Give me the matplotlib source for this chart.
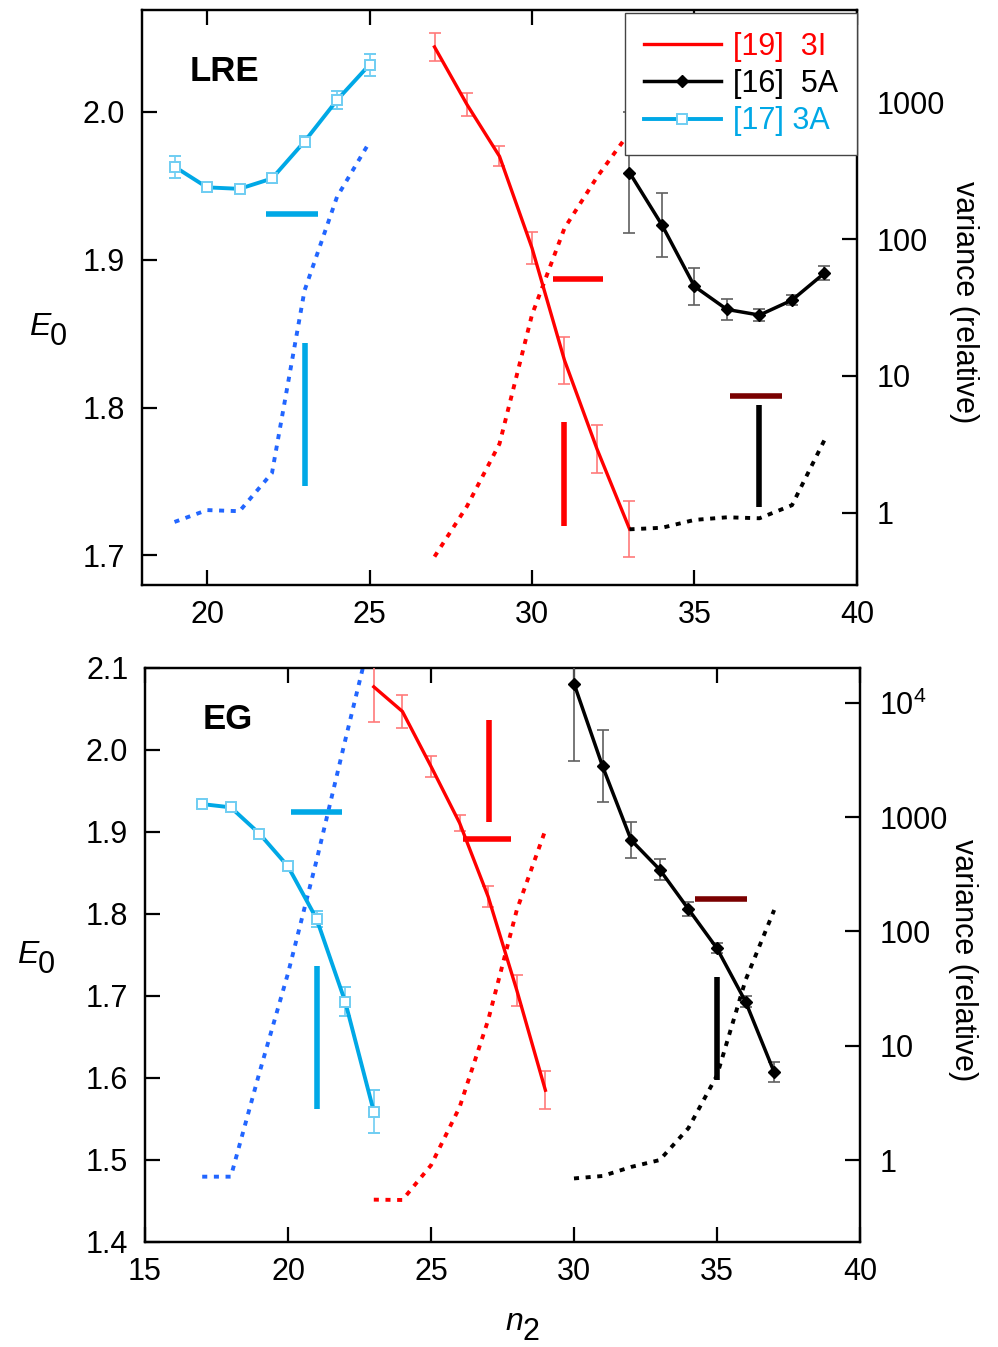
import matplotlib
matplotlib.use('Agg')
import matplotlib.pyplot as plt
from matplotlib.lines import Line2D
from matplotlib.ticker import FixedLocator, FixedFormatter
from matplotlib.transforms import offset_copy

plt.rcParams['font.family'] = ['Liberation Sans', 'DejaVu Sans']
plt.rcParams['mathtext.fontset'] = 'custom'
plt.rcParams['mathtext.rm'] = 'Liberation Sans'
plt.rcParams['mathtext.it'] = 'Liberation Sans:italic'
plt.rcParams['font.size'] = 22

# ---- LRE panel data ----
lre_n_3a = [19, 20, 21, 22, 23, 24, 25]
lre_e_3a = [1.963, 1.949, 1.948, 1.955, 1.980, 2.008, 2.032]
lre_err_3a = [0.0075, 0.003, 0.002, 0.003, 0.004, 0.006, 0.0075]
lre_var_3a = [0.86, 1.05, 1.03, 1.96, 42, 203, 510]

lre_n_3i = [27, 28, 29, 30, 31, 32, 33]
lre_e_3i = [2.044, 2.005, 1.970, 1.908, 1.832, 1.772, 1.718]
lre_err_3i = [0.0093, 0.0077, 0.0068, 0.011, 0.016, 0.0165, 0.019]
lre_var_3i = [0.48, 1.12, 3.2, 28, 120, 283, 600]

lre_n_5a = [33, 34, 35, 36, 37, 38, 39]
lre_e_5a = [1.959, 1.9235, 1.882, 1.8664, 1.8626, 1.8727, 1.891]
lre_err_5a = [0.041, 0.0217, 0.0126, 0.0073, 0.004, 0.0035, 0.0045]
lre_var_5a = [0.76, 0.78, 0.89, 0.93, 0.915, 1.14, 3.41]

# thick markers: horizontal (x0, x1, y) and vertical (x, y0, y1), per series 3A, 3I, 5A
lre_hbars = [(21.8, 23.4, 1.931), (30.66, 32.19, 1.887), (36.09, 37.68, 1.808)]
lre_vbars = [(23.03, 1.747, 1.844), (31.0, 1.720, 1.790), (37.0, 1.733, 1.802)]

# ---- EG panel data ----
eg_n_3a = [17, 18, 19, 20, 21, 22, 23]
eg_e_3a = [1.934, 1.930, 1.898, 1.858, 1.794, 1.693, 1.559]
eg_err_3a = [0.003, 0.003, 0.003, 0.004, 0.01, 0.0177, 0.026]
eg_var_3a = [0.715, 0.715, 5.8, 43, 420, 4700, 50000]

eg_n_3i = [23, 24, 25, 26, 27, 28, 29]
eg_e_3i = [2.077, 2.047, 1.980, 1.911, 1.821, 1.707, 1.585]
eg_err_3i = [0.043, 0.02, 0.013, 0.01, 0.013, 0.019, 0.023]
eg_var_3i = [0.45, 0.447, 0.9, 2.9, 16.8, 154, 771]

eg_n_5a = [30, 31, 32, 33, 34, 35, 36, 37]
eg_e_5a = [2.081, 1.980, 1.890, 1.854, 1.806, 1.758, 1.693, 1.607]
eg_err_5a = [0.094, 0.044, 0.022, 0.0126, 0.0085, 0.006, 0.007, 0.012]
eg_var_5a = [0.69, 0.725, 0.87, 1.0, 1.9, 5.5, 37.6, 154]

eg_hbars = [(20.09, 21.9, 1.924), (26.11, 27.8, 1.892), (34.23, 36.06, 1.818)]
eg_vbars = [(21.0, 1.562, 1.736), (27.03, 1.912, 2.037), (35.0, 1.598, 1.723)]

legend_labels = ['[19]  3I', '[16]  5A', '[17] 3A']

CYAN = '#00a8e6'
CYAN_LT = '#6fcdf2'
RED = '#ff0000'
RED_LT = '#ff7a7a'
BLACK = '#000000'
GREY = '#606060'
BLUE = '#2266ff'
MAROON = '#7a0000'

hbar_colors = [CYAN, RED, MAROON]
vbar_colors = [CYAN, RED, BLACK]


def style_axes(ax, ax2):
    for a in (ax, ax2):
        for s in a.spines.values():
            s.set_linewidth(1.6)
    ax.tick_params(direction='in', length=11, width=1.6, top=True, right=False, labelsize=22)
    ax.tick_params(axis='x', pad=11)
    ax.tick_params(axis='y', pad=12)
    ax2.tick_params(direction='in', length=11, width=1.6, labelsize=22, pad=14)


def draw_panel(ax, sets, hbars, vbars):
    ax2 = ax.twinx()
    ax2.set_yscale('log')
    (n3a, e3a, err3a, v3a), (n3i, e3i, err3i, v3i), (n5a, e5a, err5a, v5a) = sets

    # variance curves (right axis)
    ax2.plot(n3a, v3a, color=BLUE, lw=2.8, ls=(0, (1.3, 1.7)))
    ax2.plot(n3i, v3i, color=RED, lw=2.8, ls=(0, (1.3, 1.7)))
    ax2.plot(n5a, v5a, color=BLACK, lw=2.8, ls=(0, (1.3, 1.7)))

    # energies (left axis)
    ax.errorbar(n3a, e3a, yerr=err3a, color=CYAN, lw=2.8, marker='s', ms=7.5,
                mfc='white', mec=CYAN_LT, mew=1.4, ecolor=CYAN_LT,
                elinewidth=1.2, capsize=4, capthick=1.2, zorder=4)
    ax.errorbar(n3i, e3i, yerr=err3i, color=RED, lw=2.4, ecolor=RED_LT,
                elinewidth=1.2, capsize=4, capthick=1.2, zorder=4)
    ax.errorbar(n5a, e5a, yerr=err5a, color=BLACK, lw=2.5, marker='D', ms=6.5,
                ecolor=GREY, elinewidth=1.2, capsize=4, capthick=1.2, zorder=4)

    for (x0, x1, y), c in zip(hbars, hbar_colors):
        ax.plot([x0, x1], [y, y], color=c, lw=4, solid_capstyle='butt', zorder=3)
    for (x, y0, y1), c in zip(vbars, vbar_colors):
        ax.plot([x, x], [y0, y1], color=c, lw=4, solid_capstyle='butt', zorder=3)

    ax.set_zorder(ax2.get_zorder() + 1)
    ax.patch.set_visible(False)
    style_axes(ax, ax2)
    return ax2


def sub_label(ax, x, y, main, sub, dx):
    # italic symbol with an upright, nearly full size subscript
    ax.text(x, y, main, transform=ax.transAxes, fontsize=23, style='italic',
            ha='left', va='baseline', clip_on=False)
    tr = offset_copy(ax.transAxes, fig=ax.figure, x=dx, y=-7.5, units='points')
    ax.text(x, y, sub, transform=tr, fontsize=22, ha='left', va='baseline', clip_on=False)


fig = plt.figure(figsize=(9.98, 13.47), dpi=100)
ax_top = fig.add_axes([0.1423, 0.5657, 0.7164, 0.4269])
ax_bot = fig.add_axes([0.1453, 0.0780, 0.7164, 0.4261])

# top panel
ax2_top = draw_panel(ax_top,
                     [(lre_n_3a, lre_e_3a, lre_err_3a, lre_var_3a),
                      (lre_n_3i, lre_e_3i, lre_err_3i, lre_var_3i),
                      (lre_n_5a, lre_e_5a, lre_err_5a, lre_var_5a)],
                     lre_hbars, lre_vbars)
ax_top.set_xlim(18, 40)
ax_top.set_ylim(1.680, 2.069)
ax_top.set_xticks([20, 25, 30, 35, 40])
ax_top.set_yticks([1.7, 1.8, 1.9, 2.0])
ax_top.set_yticklabels(['1.7', '1.8', '1.9', '2.0'])
ax2_top.set_ylim(0.298, 4700)
ax2_top.yaxis.set_major_locator(FixedLocator([1, 10, 100, 1000]))
ax2_top.yaxis.set_major_formatter(FixedFormatter(['1', '10', '100', '1000']))
ax2_top.yaxis.set_minor_locator(FixedLocator([]))
ax_top.text(0.067, 0.893, 'LRE', transform=ax_top.transAxes, fontsize=25,
            fontweight='bold', va='center', ha='left')
sub_label(ax_top, -0.158, 0.435, 'E', '0', 15)
ax2_top.set_ylabel('variance (relative)', rotation=270, fontsize=22)
ax2_top.yaxis.set_label_coords(1.17, 0.492)

# bottom panel
ax2_bot = draw_panel(ax_bot,
                     [(eg_n_3a, eg_e_3a, eg_err_3a, eg_var_3a),
                      (eg_n_3i, eg_e_3i, eg_err_3i, eg_var_3i),
                      (eg_n_5a, eg_e_5a, eg_err_5a, eg_var_5a)],
                     eg_hbars, eg_vbars)
ax_bot.set_xlim(15, 40)
ax_bot.set_ylim(1.4, 2.1)
ax_bot.set_xticks([15, 20, 25, 30, 35, 40])
ax_bot.set_yticks([1.4, 1.5, 1.6, 1.7, 1.8, 1.9, 2.0, 2.1])
ax_bot.set_yticklabels(['1.4', '1.5', '1.6', '1.7', '1.8', '1.9', '2.0', '2.1'])
ax2_bot.set_ylim(0.192, 20200)
ax2_bot.yaxis.set_major_locator(FixedLocator([1, 10, 100, 1000, 10000]))
ax2_bot.yaxis.set_major_formatter(FixedFormatter(['1', '10', '100', '1000', r'$\mathregular{10^4}$']))
ax2_bot.yaxis.set_minor_locator(FixedLocator([]))
ax_bot.text(0.081, 0.911, 'EG', transform=ax_bot.transAxes, fontsize=25,
            fontweight='bold', va='center', ha='left')
sub_label(ax_bot, -0.179, 0.486, 'E', '0', 15)
ax2_bot.set_ylabel('variance (relative)', rotation=270, fontsize=22)
ax2_bot.yaxis.set_label_coords(1.165, 0.491)
sub_label(ax_bot, 0.5035, -0.153, 'n', '2', 12.5)

# legend on top panel
handles = [Line2D([], [], color=RED, lw=2.4),
           Line2D([], [], color=BLACK, lw=2.5, marker='D', ms=6.5),
           Line2D([], [], color=CYAN, lw=2.8, marker='s', ms=7.5, mfc='white', mec=CYAN_LT, mew=1.4)]
leg = ax2_top.legend(handles, legend_labels, loc='upper right', bbox_to_anchor=(1.0, 0.995),
                     borderaxespad=0, fancybox=False, framealpha=1, edgecolor='#444444',
                     handlelength=2.5, handletextpad=0.4, labelspacing=0.24,
                     borderpad=0.62, numpoints=1, fontsize=22)
leg.get_frame().set_linewidth(1.0)
for txt, c in zip(leg.get_texts(), [RED, BLACK, CYAN]):
    txt.set_color(c)
leg.set_zorder(20)
ax2_top.set_zorder(ax_top.get_zorder() + 1)
ax2_top.patch.set_visible(False)

fig.savefig('out.png', dpi=100)
